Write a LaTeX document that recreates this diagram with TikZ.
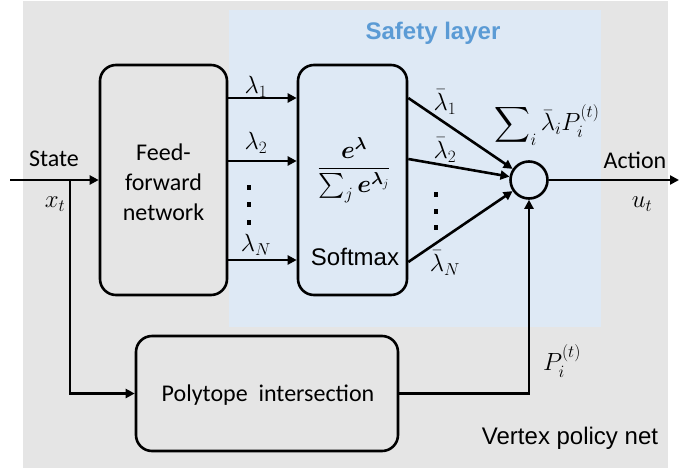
\documentclass[tikz,border=0pt]{standalone}
\usepackage{amsmath}
\usepackage{bm}
\usepackage{fontspec}
\setmainfont{Carlito}
\newfontfamily\arialfont{Liberation Sans}
\usetikzlibrary{arrows.meta}
\definecolor{graybg}{HTML}{E5E5E5}
\definecolor{bluebg}{HTML}{DEE9F5}
\definecolor{titleblue}{HTML}{5B9BD5}
\begin{document}
\begin{tikzpicture}[x=1pt,y=-1pt,
  box/.style={draw,line width=2.6pt,rounded corners=16pt,inner sep=0pt,align=center,
    font=\fontsize{24}{30}\selectfont},
  conn/.style={line width=2.6pt,-{Triangle[length=9pt,width=9pt]}},
  plain/.style={line width=2.6pt},
  lbl/.style={font=\fontsize{24}{29}\selectfont,inner sep=0pt},
  alab/.style={font=\arialfont\fontsize{24}{29}\selectfont,inner sep=0pt},
]
\useasboundingbox (0,0) rectangle (679,471);
\fill[graybg] (23,1) rectangle (668,468);
\fill[bluebg] (229,10) rectangle (601,327);

\node[alab,font=\arialfont\bfseries\fontsize{24}{29}\selectfont,text=titleblue] (title) at (433,33) {Safety layer};

\node[box,minimum width=127pt,minimum height=230pt] (ff) at (163.5,180) {};
\node[lbl,align=center,font=\fontsize{24}{30}\selectfont] (fftext) at (163.5,182) {Feed-\\forward\\network};

\node[box,minimum width=109pt,minimum height=230pt] (sm) at (352.5,180) {};
\node[lbl] (frac) at (354,170) {$\dfrac{\bm{e}^{\bm{\lambda}}}{\sum_{j}\bm{e}^{\bm{\lambda}_j}}$};
\node[alab] (smtext) at (355,257) {Softmax};

\node[box,minimum width=262pt,minimum height=115pt] (poly) at (267,393.5) {};
\node[lbl] (polytext) at (268,395) {Polytope\ \ intersection};

\node[draw,circle,line width=2.6pt,minimum size=37pt,inner sep=0pt] (c) at (529,180) {};

\coordinate (in) at (10,180);
\coordinate (br) at (70,180);
\coordinate (out) at (679,180);

\draw[conn] (in) -- (ff.west);
\draw[conn] (br) |- (poly.west);
\draw[conn] ([yshift=82pt]ff.east) -- ([yshift=82pt]sm.west);
\draw[conn] ([yshift=19pt]ff.east) -- ([yshift=19pt]sm.west);
\draw[conn] ([yshift=-80pt]ff.east) -- ([yshift=-80pt]sm.west);
\draw[conn] ([yshift=82pt]sm.east) -- (c);
\draw[conn] ([yshift=21pt]sm.east) -- (c);
\draw[conn] ([yshift=-82pt]sm.east) -- (c);
\draw[conn] (poly.east) -| (c.south);
\draw[conn] (c.east) -- (out);

\node[lbl] (state) at (54,159) {State};
\node[lbl] (xt) at (55,204) {$x_t$};
\node[lbl] (l1) at (256,87) {$\lambda_1$};
\node[lbl] (l2) at (256,143) {$\lambda_2$};
\node[lbl] (lN) at (256,245) {$\lambda_N$};
\foreach \yy in {187,204,222} \fill (247,\yy-2.5) rectangle (251,\yy+2.5);
\node[lbl] (b1) at (445,102) {$\bar\lambda_1$};
\node[lbl] (b2) at (445,150) {$\bar\lambda_2$};
\node[lbl] (bN) at (445,263) {$\bar\lambda_N$};
\foreach \yy in {194,211,227} \fill (434,\yy-2.5) rectangle (438,\yy+2.5);
\node[lbl] (sum) at (547,125) {$\displaystyle\sum\nolimits_i \bar\lambda_i P_i^{(t)}$};
\node[lbl] (action) at (635,160) {Action};
\node[lbl] (ut) at (642,204) {$u_t$};
\node[lbl] (pit) at (562,361) {$P_i^{(t)}$};
\node[alab] (vpn) at (570,438) {Vertex policy net};
\end{tikzpicture}
\end{document}
